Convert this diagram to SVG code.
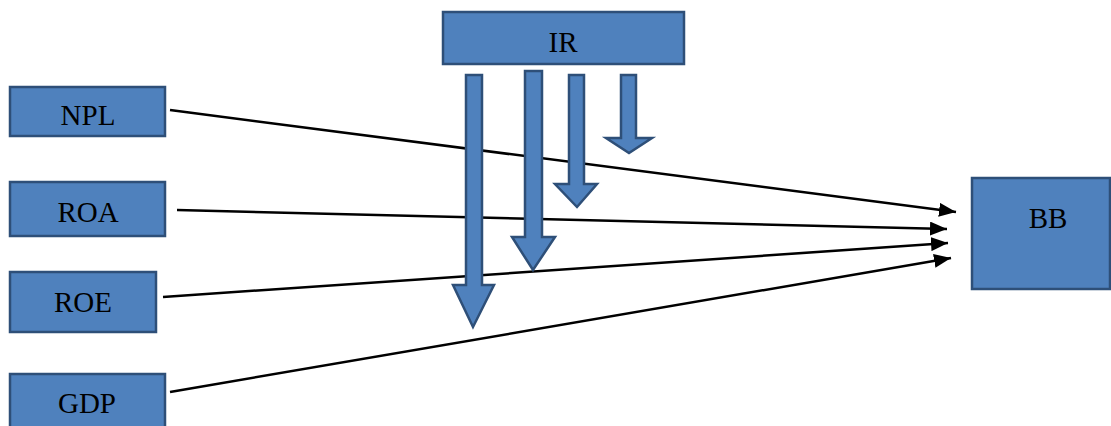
<svg xmlns="http://www.w3.org/2000/svg" width="1111" height="426" viewBox="0 0 1111 426">
<style>
.box{fill:#4F81BD;stroke:#2E4F78;stroke-width:2.5}
.lbl{font-family:"Liberation Serif","Times New Roman",serif;font-size:29px;fill:#000;text-anchor:middle}
.conn{stroke:#000;stroke-width:2.5;fill:none;marker-end:url(#ah)}
.barrow{fill:#4F81BD;stroke:#2E4F78;stroke-width:2.5;stroke-linejoin:miter}
</style>
<defs>
<marker id="ah" markerUnits="userSpaceOnUse" markerWidth="17" markerHeight="14" refX="17" refY="7" orient="auto">
<path d="M0,0 L17,7 L0,14 Z" fill="#000"/>
</marker>
</defs>
<rect width="1111" height="426" fill="#fff"/>
<g id="connectors">
<line class="conn" x1="170" y1="110" x2="956" y2="212"/>
<line class="conn" x1="177" y1="210" x2="947" y2="229"/>
<line class="conn" x1="163" y1="297" x2="948" y2="243"/>
<line class="conn" x1="170" y1="392" x2="951" y2="258"/>
</g>
<g id="IR">
<rect class="box" x="443" y="12" width="241" height="52"/>
<text class="lbl" x="563" y="52">IR</text>
<g id="IR-arrows">
<polygon class="barrow" points="466,75 482,75 482,285 494,285 473,327 453,285 466,285"/>
<polygon class="barrow" points="525,71 542,71 542,237 555,237 533,270 512,237 525,237"/>
<polygon class="barrow" points="569,75 584,75 584,184 597,184 577,207 555,184 569,184"/>
<polygon class="barrow" points="621,75 636,75 636,138 652,138 629,153 606,138 621,138"/>
</g>
</g>
<g id="NPL">
<rect class="box" x="10" y="87" width="155" height="49"/>
<text class="lbl" x="88" y="125">NPL</text>
</g>
<g id="ROA">
<rect class="box" x="10" y="182" width="155" height="54"/>
<text class="lbl" x="88" y="222">ROA</text>
</g>
<g id="ROE">
<rect class="box" x="10" y="272" width="146" height="60"/>
<text class="lbl" x="83" y="312">ROE</text>
</g>
<g id="GDP">
<rect class="box" x="10" y="374" width="155" height="62"/>
<text class="lbl" x="87" y="413">GDP</text>
</g>
<g id="BB">
<rect class="box" x="972" y="178" width="138" height="111"/>
<text class="lbl" x="1048" y="228">BB</text>
</g>
</svg>
